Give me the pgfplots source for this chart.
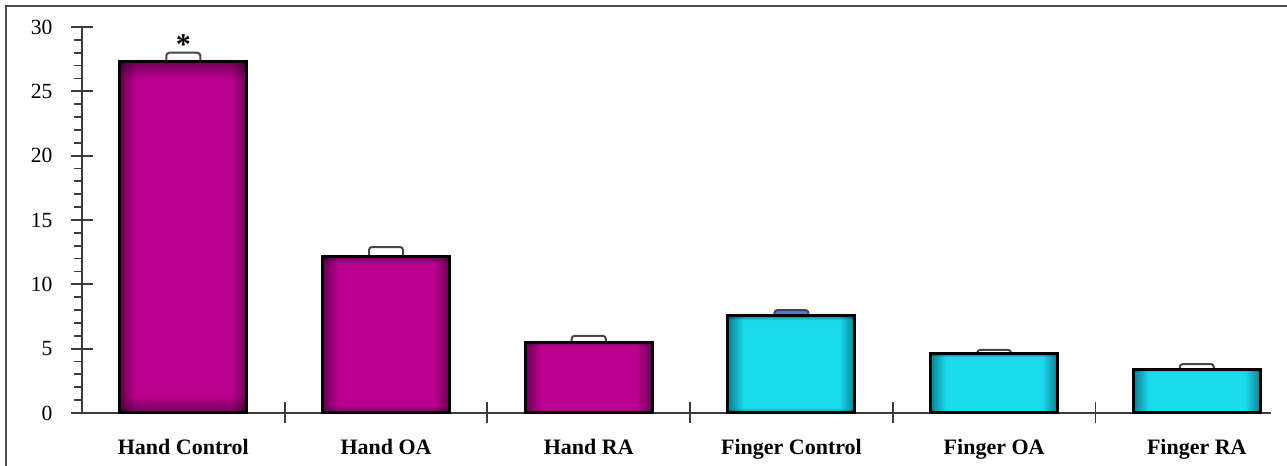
\documentclass[border=0pt]{standalone}
\usepackage{pgfplots}
\pgfplotsset{compat=1.18}
\usepackage{fontspec}
\setmainfont{Liberation Serif}
\definecolor{mag}{RGB}{187,0,143}
\definecolor{magdark}{RGB}{100,0,78}
\definecolor{cyn}{RGB}{26,218,236}
\definecolor{cyndark}{RGB}{14,125,142}
\definecolor{errblue}{RGB}{75,125,200}
\definecolor{errgray}{RGB}{70,70,70}
\definecolor{axgray}{RGB}{60,60,60}
\pgfdeclarehorizontalshading{magh}{100bp}{color(0bp)=(magdark); color(25bp)=(magdark); color(31bp)=(mag); color(69bp)=(mag); color(75bp)=(magdark); color(100bp)=(magdark)}
\pgfdeclarehorizontalshading{cynh}{100bp}{color(0bp)=(cyndark); color(25bp)=(cyndark); color(31bp)=(cyn); color(69bp)=(cyn); color(75bp)=(cyndark); color(100bp)=(cyndark)}
\pgfdeclareverticalshading{vfade}{100bp}{color(0bp)=(black!40); color(25bp)=(black!40); color(27.5bp)=(white); color(72.5bp)=(white); color(75bp)=(black!40); color(100bp)=(black!40)}
\pgfplotsset{
  mainbar/.style={ybar, bar width=0.627, bar shift=0pt, draw=black, line width=1.5pt, shade, shading=#1},
  fadebar/.style={ybar, bar width=0.627, bar shift=0pt, draw=none, shade, shading=vfade, blend mode=multiply},
  errbox/.style={ybar, bar width=0.168, bar shift=0pt, fill=#1, draw=errgray, line width=1pt, rounded corners=1.5pt},
}
\begin{document}
\begin{tikzpicture}
\path[use as bounding box] (0,0) rectangle (643.5pt,233pt);
\draw[line width=1pt, black!70] (3pt,0pt) -- (3pt,230pt) -- (643.5pt,230pt);
\begin{axis}[
  at={(41pt,26.5pt)}, anchor=south west,
  scale only axis, width=594.5pt, height=193pt,
  xmin=-0.5, xmax=5.366, ymin=0, ymax=30,
  axis x line=bottom, axis y line=left,
  axis line style={-, axgray, line width=0.9pt},
  clip=false,
  ytick={0,5,...,30}, minor y tick num=4,
  tick align=center, major tick length=10.5pt, minor tick length=4.5pt,
  every tick/.style={axgray, line width=0.9pt},
  minor y tick style={xshift=-1.75pt},
  xtick={0.5,1.5,2.5,3.5,4.5}, xticklabels={},
  extra x ticks={0,1,2,3,4,5},
  extra x tick labels={Hand Control,Hand OA,Hand RA,Finger Control,Finger OA,Finger RA},
  extra x tick style={major tick length=0pt, tick label style={font=\fontsize{11}{12}\selectfont\bfseries, yshift=-9.5pt}},
  yticklabel style={font=\fontsize{10.8}{12}\selectfont, xshift=-6pt},
  /pgf/number format/assume math mode=true,
]
% error boxes (drawn behind bars)
\addplot[errbox=white] coordinates {(0,28.0) (1,12.9) (2,6.0) (4,4.9) (5,3.8)};
\addplot[errbox=errblue] coordinates {(3,8.0)};
% main bars, one plot per bar so each gets its own shading
\addplot[mainbar=magh] coordinates {(0,27.3)};
\addplot[fadebar] coordinates {(0,27.3)};
\addplot[mainbar=magh] coordinates {(1,12.2)};
\addplot[fadebar] coordinates {(1,12.2)};
\addplot[mainbar=magh] coordinates {(2,5.5)};
\addplot[fadebar] coordinates {(2,5.5)};
\addplot[mainbar=cynh] coordinates {(3,7.6)};
\addplot[fadebar] coordinates {(3,7.6)};
\addplot[mainbar=cynh] coordinates {(4,4.6)};
\addplot[fadebar] coordinates {(4,4.6)};
\addplot[mainbar=cynh] coordinates {(5,3.4)};
\addplot[fadebar] coordinates {(5,3.4)};
\node[font=\fontsize{15}{15}\selectfont\bfseries, anchor=base] at (axis cs:0,27.9) {*};
\end{axis}
\end{tikzpicture}
\end{document}
